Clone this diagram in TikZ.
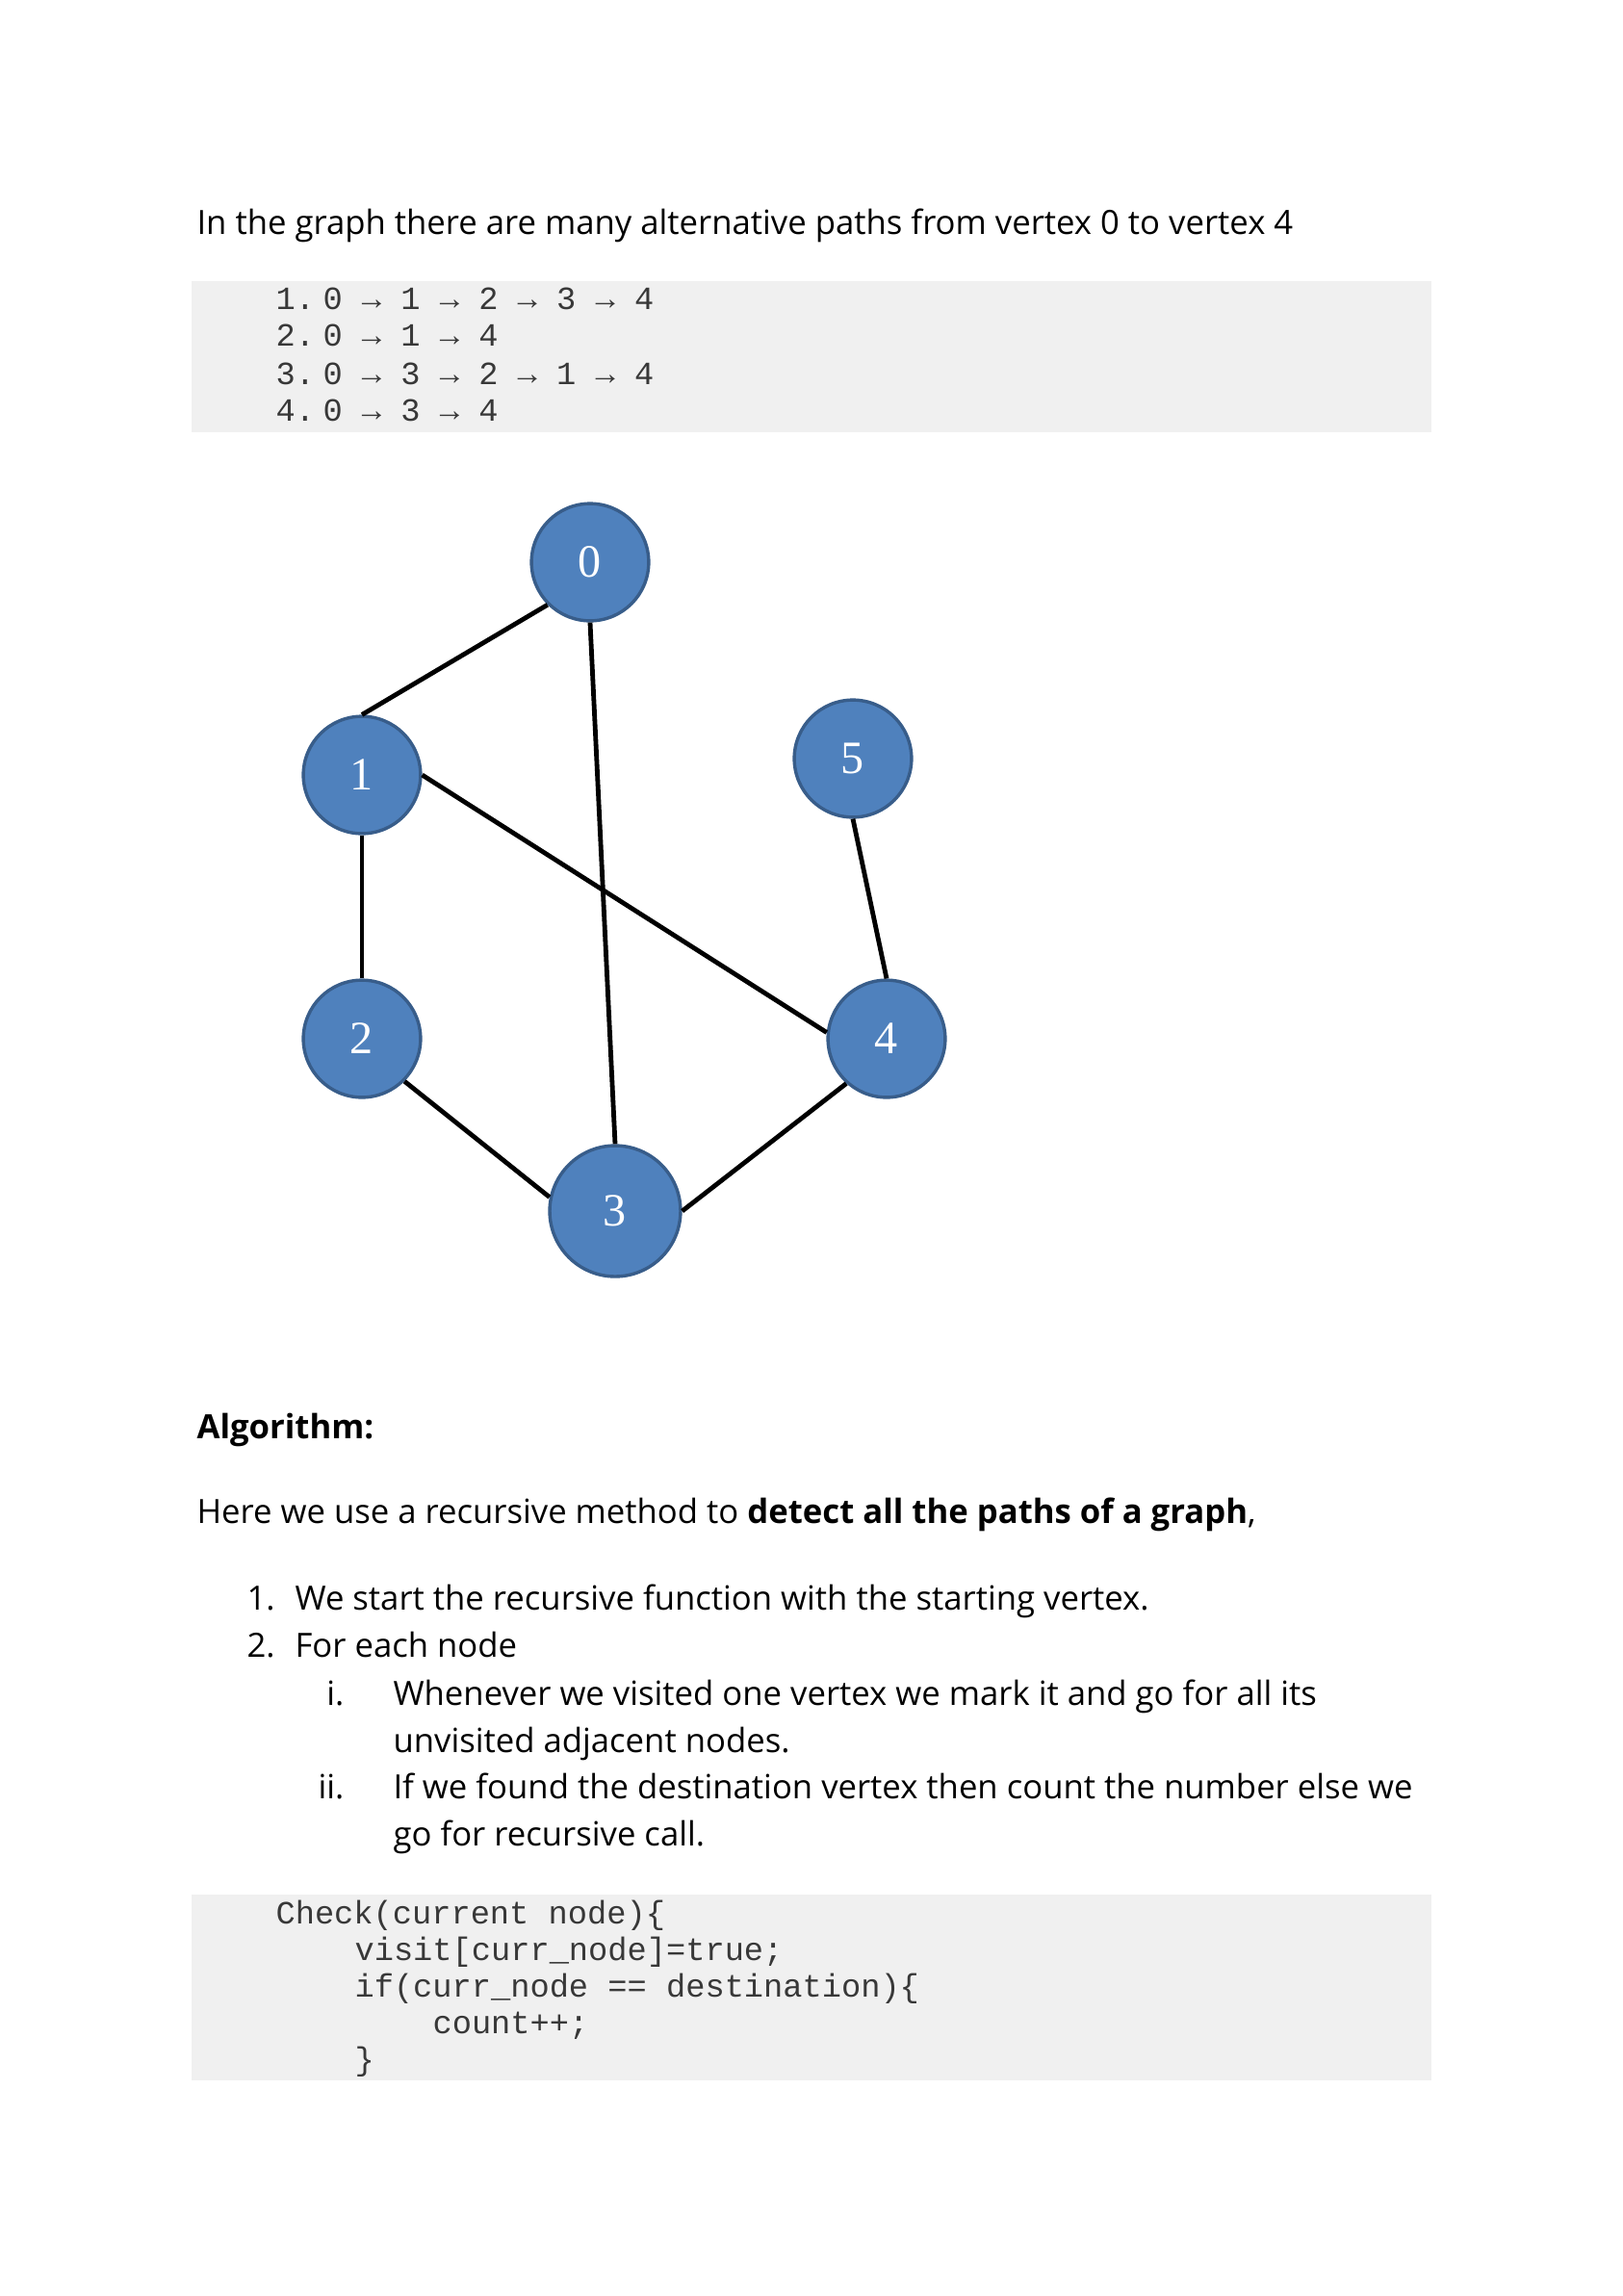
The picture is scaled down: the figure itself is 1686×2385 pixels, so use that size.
\documentclass[tikz,border=0pt]{standalone}
\usepackage{fontspec}
\setmainfont{Open Sans}
\newfontfamily\codefont{Liberation Mono}
\newfontfamily\numfont{Liberation Serif}
\definecolor{codebg}{RGB}{240,240,240}
\definecolor{vfill}{RGB}{79,129,189}
\definecolor{vdraw}{RGB}{56,93,138}
\begin{document}
\begin{tikzpicture}[x=0.3531pt,y=-0.3531pt,
  txt/.style={anchor=base west,inner sep=0pt,font=\fontsize{12.25}{14}\selectfont},
  txtr/.style={anchor=base east,inner sep=0pt,font=\fontsize{12.25}{14}\selectfont},
  code/.style={anchor=base west,inner sep=0pt,font=\codefont\fontsize{11.9}{13}\selectfont,text=black!78},
  codebox/.style={fill=codebg,draw=none},
  vertex/.style={circle,fill=vfill,draw=vdraw,line width=1.2pt,minimum size=43pt,inner sep=0pt,font=\numfont\fontsize{17}{17}\selectfont,text=white},
  edge/.style={line width=1.7pt,black}]
\useasboundingbox[fill=white] (0,0) rectangle (1686,2385);

% title
\node[txt] (title) at (204,243) {In the graph there are many alternative paths from vertex 0 to vertex 4};

% code block 1
\fill[codebox] (199,292) rectangle (1487,449);
\node[code] (p1) at (286,321) {1.\kern3pt0 → 1 → 2 → 3 → 4};
\node[code] (p2) at (286,359) {2.\kern3pt0 → 1 → 4};
\node[code] (p3) at (286,399) {3.\kern3pt0 → 3 → 2 → 1 → 4};
\node[code] (p4) at (286,437) {4.\kern3pt0 → 3 → 4};

% graph
\node[vertex] (n0) at (613,584) {0};
\node[vertex] (n1) at (376,805) {1};
\node[vertex] (n5) at (886,788) {5};
\node[vertex] (n2) at (376,1079) {2};
\node[vertex] (n4) at (921,1079) {4};
\node[vertex,minimum size=48pt] (n3) at (639,1258) {3};

\draw[edge] (n0.225) -- (n1.north);
\draw[edge] (n0.south) -- (n3.north);
\draw[edge] (n1.south) -- (n2.north);
\draw[edge] (n1.east) -- (n4.174);
\draw[edge] (n2.-45) -- (n3.168);
\draw[edge] (n3.east) -- (n4.228);
\draw[edge] (n5.south) -- (n4.north);

% algorithm text
\node[txt] (alg) at (204,1494) {\textbf{Algorithm:}};
\node[txt] (here) at (204,1582) {Here we use a recursive method to \textbf{detect all the paths of a graph},};
\node[txt] (l1n) at (256,1672) {1.};
\node[txt] (l1) at (306,1672) {We start the recursive function with the starting vertex.};
\node[txt] (l2n) at (256,1721) {2.};
\node[txt] (l2) at (306,1721) {For each node};
\node[txtr] (r1n) at (358,1771) {i.};
\node[txt] (r1a) at (408,1771) {Whenever we visited one vertex we mark it and go for all its};
\node[txt] (r1b) at (408,1820) {unvisited adjacent nodes.};
\node[txtr] (r2n) at (358,1868) {ii.};
\node[txt] (r2a) at (408,1868) {If we found the destination vertex then count the number else we};
\node[txt] (r2b) at (408,1917) {go for recursive call.};

% code block 2
\fill[codebox] (199,1968) rectangle (1487,2161);
\node[code] (c1) at (286,1998) {Check(current node)\{};
\node[code] (c2) at (368,2036) {visit[curr\_node]=true;};
\node[code] (c3) at (368,2074) {if(curr\_node == destination)\{};
\node[code] (c4) at (449,2112) {count++;};
\node[code] (c5) at (368,2150) {\}};
\end{tikzpicture}
\end{document}
